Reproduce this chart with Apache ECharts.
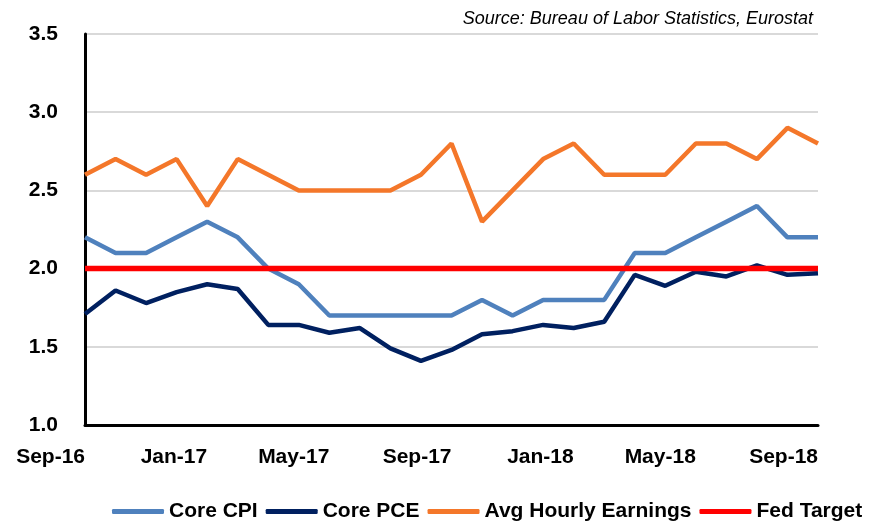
<!DOCTYPE html>
<html>
<head>
<meta charset="utf-8">
<script src="https://cdn.jsdelivr.net/npm/echarts@6/dist/echarts.min.js"></script>
<style>
  html, body { margin: 0; padding: 0; background: #fff; }
  #chart { width: 875px; height: 527px; }
</style>
</head>
<body>
<div id="chart"></div>
<script>
// monthly, Sep-16 .. Sep-18
const months = [
  'Sep-16', 'Oct-16', 'Nov-16', 'Dec-16', 'Jan-17', 'Feb-17', 'Mar-17', 'Apr-17', 'May-17',
  'Jun-17', 'Jul-17', 'Aug-17', 'Sep-17', 'Oct-17', 'Nov-17', 'Dec-17', 'Jan-18',
  'Feb-18', 'Mar-18', 'Apr-18', 'May-18', 'Jun-18', 'Jul-18', 'Aug-18', 'Sep-18'
]
const coreCpi = [2.2, 2.1, 2.1, 2.2, 2.3, 2.2, 2.0, 1.9, 1.7, 1.7, 1.7, 1.7, 1.7, 1.8, 1.7, 1.8, 1.8, 1.8, 2.1, 2.1, 2.2, 2.3, 2.4, 2.2, 2.2]
const corePce = [1.71, 1.86, 1.78, 1.85, 1.90, 1.87, 1.64, 1.64, 1.59, 1.62, 1.49, 1.41, 1.48, 1.58, 1.60, 1.64, 1.62, 1.66, 1.96, 1.89, 1.98, 1.95, 2.02, 1.96, 1.97]
const avgHourlyEarnings = [2.6, 2.7, 2.6, 2.7, 2.4, 2.7, 2.6, 2.5, 2.5, 2.5, 2.5, 2.6, 2.8, 2.3, 2.5, 2.7, 2.8, 2.6, 2.6, 2.6, 2.8, 2.8, 2.7, 2.9, 2.8]
const fedTarget = months.map(() => 2.0)

const chart = echarts.init(document.getElementById('chart'))

const mkLine = (name, data, color, width) => ({
  name,
  type: 'line',
  data,
  symbol: 'none',
  color,
  lineStyle: { color, width },
})

chart.setOption({
  animation: false,
  title: {
    text: 'Source: Bureau of Labor Statistics, Eurostat',
    right: 57,
    top: 5,
    textStyle: { fontFamily: 'Liberation Sans', fontStyle: 'italic', fontWeight: 'normal', fontSize: 18, color: '#000' },
  },
  legend: {
    left: 112,
    bottom: 0,
    padding: [5, 0],
    itemWidth: 52,
    itemHeight: 5,
    itemGap: 8,
    icon: 'roundRect',
    textStyle: { fontFamily: 'Liberation Sans', fontWeight: 'bold', fontSize: 21, color: '#000' },
    data: ['Core CPI', 'Core PCE', 'Avg Hourly Earnings', 'Fed Target'],
  },
  grid: { left: 85, right: 57, top: 34, bottom: 102 },
  xAxis: {
    type: 'category',
    data: months,
    boundaryGap: false,
    axisLine: { lineStyle: { color: '#000', width: 3 } },
    axisTick: { show: false },
    axisLabel: {
      interval: 3,
      align: 'right',
      margin: 22,
      fontFamily: 'Liberation Sans',
      fontWeight: 'bold',
      fontSize: 21,
      color: '#000',
    },
  },
  yAxis: {
    type: 'value',
    min: 1,
    max: 3.5,
    interval: 0.5,
    axisLine: { show: true, lineStyle: { color: '#000', width: 3 } },
    axisTick: { show: false },
    axisLabel: {
      margin: 27,
      fontFamily: 'Liberation Sans',
      fontWeight: 'bold',
      fontSize: 21,
      color: '#000',
      formatter: (v) => v.toFixed(1),
    },
    splitLine: { lineStyle: { color: '#D9D9D9', width: 2 } },
  },
  series: [
    mkLine('Core CPI', coreCpi, '#4F81BD', 4.5),
    mkLine('Core PCE', corePce, '#002060', 4.5),
    mkLine('Avg Hourly Earnings', avgHourlyEarnings, '#F4772A', 4.5),
    mkLine('Fed Target', fedTarget, '#FF0000', 5.5),
  ],
})
</script>
</body>
</html>
